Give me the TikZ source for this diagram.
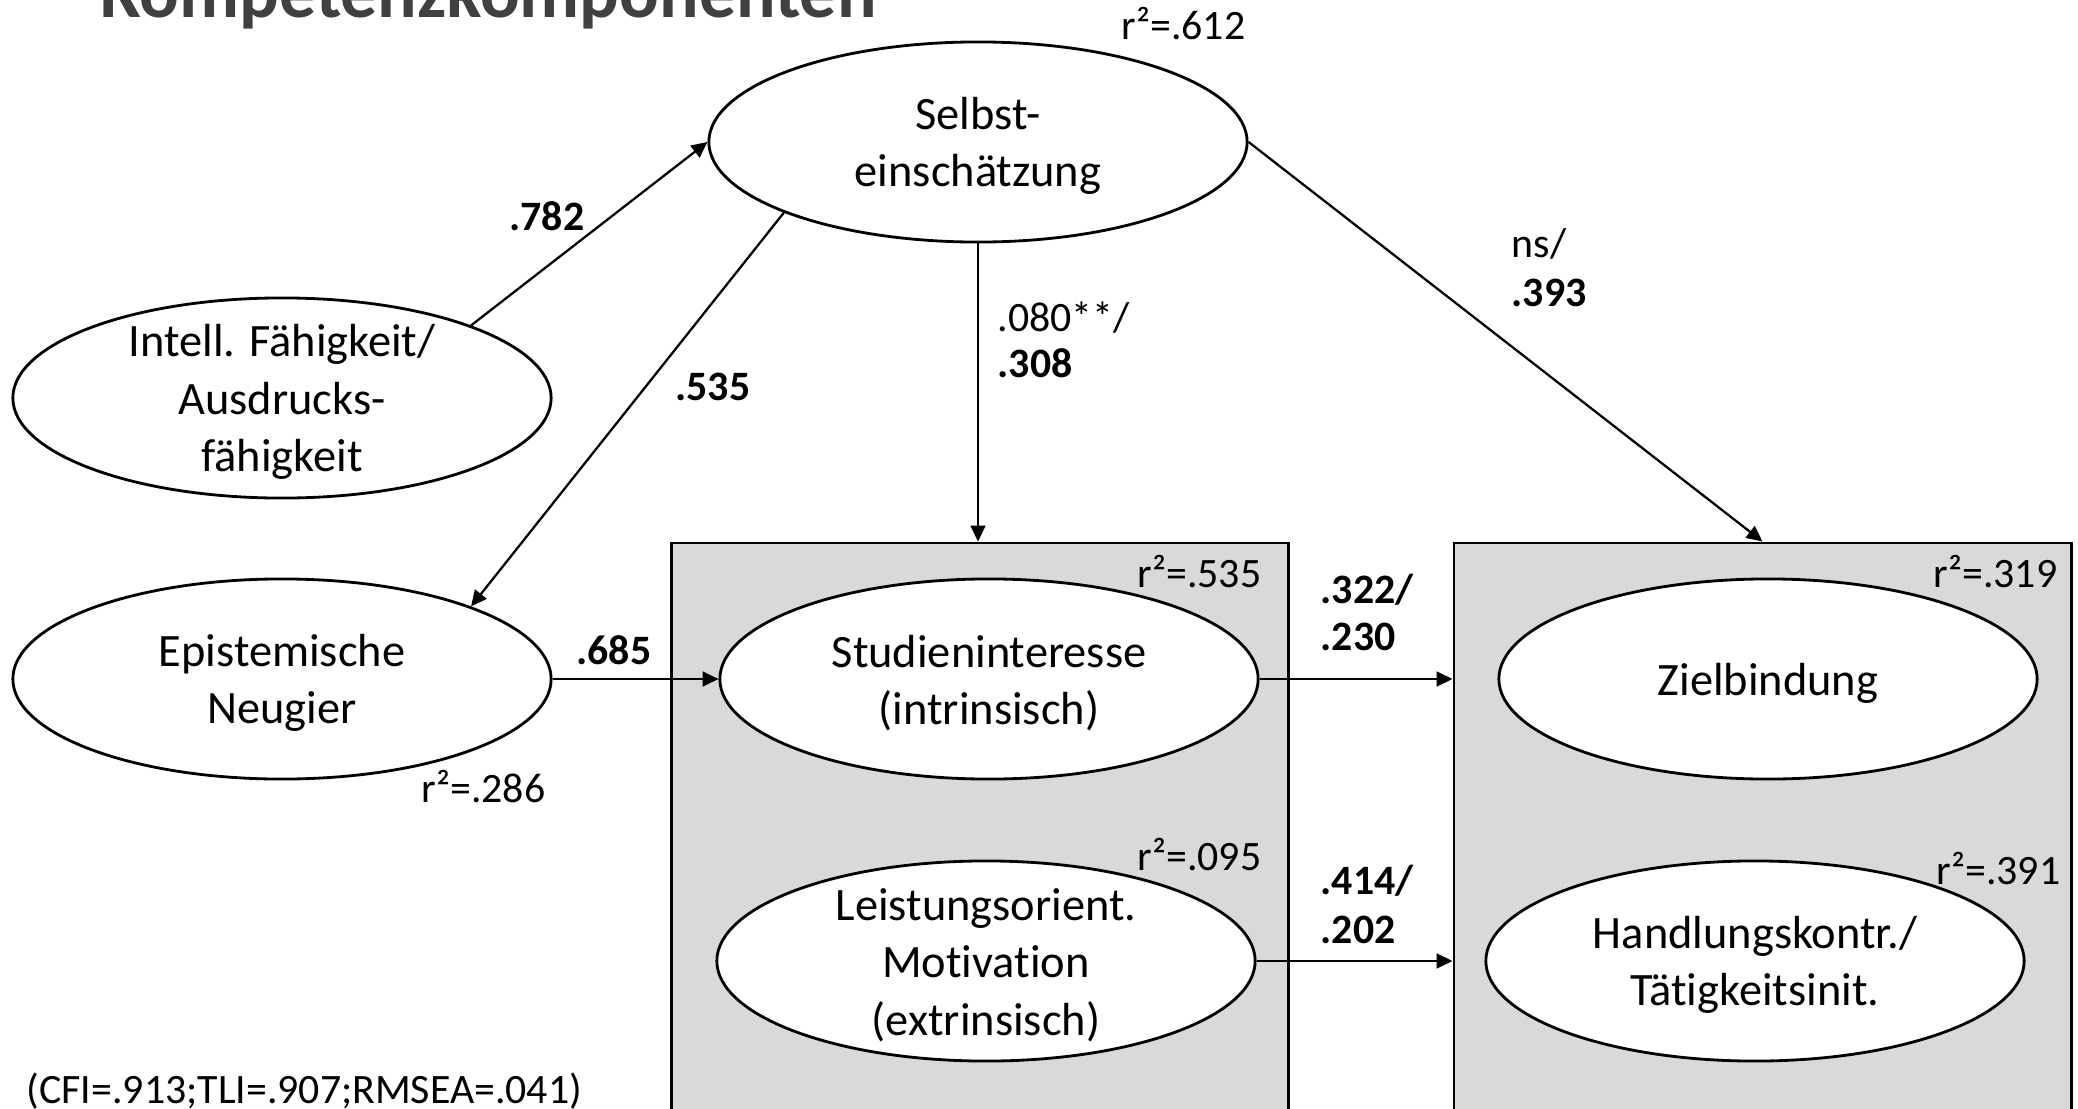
\documentclass[tikz,border=0pt]{standalone}
\usepackage{fontspec}
\setmainfont{Carlito}[Ligatures={NoCommon}]
\usetikzlibrary{shapes.geometric,arrows.meta}
\definecolor{boxgray}{HTML}{D9D9D9}
\definecolor{titlegray}{HTML}{404040}
\begin{document}
\begin{tikzpicture}[x=0.01cm,y=-0.01cm,
  latent/.style={ellipse,draw,fill=white,line width=0.8pt,inner sep=0pt,
    minimum width=5.38cm,minimum height=2.0cm},
  ltext/.style={inner sep=0pt,align=center,yshift=-0.04cm,
    font=\fontsize{13.2}{16.4}\selectfont},
  group/.style={rectangle,draw,fill=boxgray,line width=0.75pt,inner sep=0pt,
    minimum width=6.17cm,minimum height=6.0cm},
  effect/.style={line width=0.65pt,-{Triangle[length=4.5pt,width=4.2pt]}},
  lbl/.style={inner sep=0pt,font=\fontsize{11.9}{14}\selectfont},
  coef/.style={inner sep=0pt,font=\fontsize{11.9}{14}\selectfont\bfseries},
]
\useasboundingbox (0,0) rectangle (2078,1109);
\clip (0,0) rectangle (2078,1109);

% heading
\node[anchor=base west,inner sep=0pt,text=titlegray,
  font=\fontsize{21}{25}\selectfont\bfseries] (title) at (100,18) {Kompetenzkomponenten};

% grouping boxes for the outcome constructs
\node[group] (box1) at (980,843) {};
\node[group] (box2) at (1762.5,843) {};

% latent constructs (shape and caption kept apart so the size stays fixed)
\node[latent] (sel)  at (978,142)  {};
\node[latent] (intl) at (282,398)  {};
\node[latent] (epi)  at (282,679)  {};
\node[latent] (stu)  at (989,679)  {};
\node[latent] (lei)  at (986,961)  {};
\node[latent] (ziel) at (1768,679) {};
\node[latent] (hand) at (1755,961) {};

\node[ltext] (sel-t)  at (sel)  {Selbst-\\einschätzung};
\node[ltext] (intl-t) at (intl) {Intell. Fähigkeit/\\Ausdrucks-\\fähigkeit};
\node[ltext] (epi-t)  at (epi)  {Epistemische\\Neugier};
\node[ltext] (stu-t)  at (stu)  {Studieninteresse\\(intrinsisch)};
\node[ltext] (lei-t)  at (lei)  {Leistungsorient.\\Motivation\\(extrinsisch)};
\node[ltext] (ziel-t) at (ziel) {Zielbindung};
\node[ltext] (hand-t) at (hand) {Handlungskontr./\\Tätigkeitsinit.};

% paths
\draw[effect] (intl.21) -- (sel.west);
\draw[effect] (sel.200) -- (epi.21);
\draw[effect] (sel.south) -- (sel.south |- box1.north);
\draw[effect] (sel.east) -- (box2.north);
\draw[effect] (epi.east) -- (stu.west);
\draw[effect] (stu.east) -- (stu.east -| box2.west);
\draw[effect] (lei.east) -- (lei.east -| box2.west);

% path coefficients
\node[coef] (c782) at (547,216) {.782};
\node[coef] (c535) at (713,387) {.535};
\node[coef] (c685) at (614,650) {.685};
\node[lbl,anchor=base west]  (c080) at (997,331) {.080**/};
\node[coef,anchor=base west] (c308) at (997,377) {.308};
\node[lbl,anchor=base west]  (cns)  at (1511,257) {ns/};
\node[coef,anchor=base west] (c393) at (1511,306) {.393};
\node[coef,anchor=base west] (c322) at (1320,603) {.322/};
\node[coef,anchor=base west] (c230) at (1320,650) {.230};
\node[coef,anchor=base west] (c414) at (1320,894) {.414/};
\node[coef,anchor=base west] (c202) at (1320,943) {.202};

% explained variance
\node[lbl,anchor=base east] (r612) at (1246,40)  {r²=.612};
\node[lbl,anchor=base east] (r535) at (1262,587) {r²=.535};
\node[lbl,anchor=base east] (r319) at (2058,587) {r²=.319};
\node[lbl,anchor=base east] (r286) at (546,802)  {r²=.286};
\node[lbl,anchor=base east] (r095) at (1262,870) {r²=.095};
\node[lbl,anchor=base east] (r391) at (2061,884) {r²=.391};

% model fit
\node[lbl,anchor=base west] (fit) at (26,1103) {(CFI=.913;TLI=.907;RMSEA=.041)};
\end{tikzpicture}
\end{document}
